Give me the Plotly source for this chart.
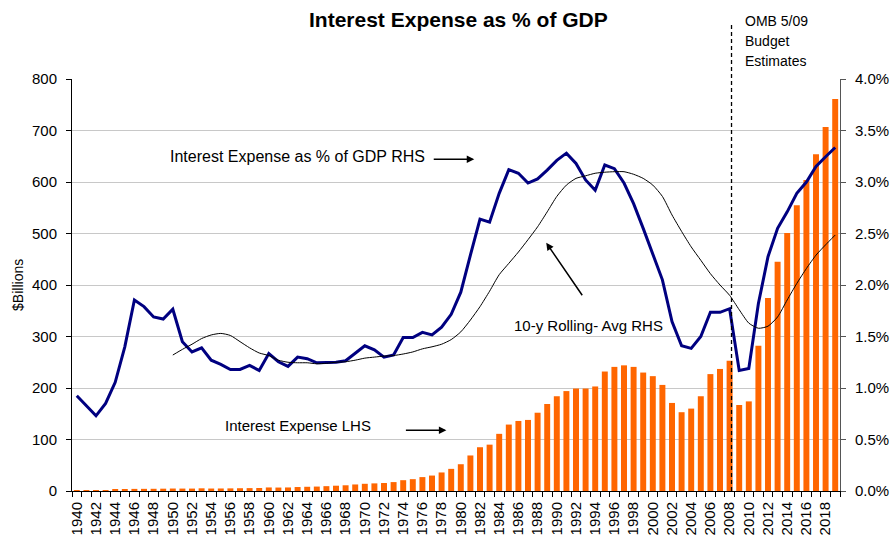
import plotly.graph_objects as go

years = list(range(1940, 2020))

interest_expense_bn = [
    0.9, 1.1, 1.1, 1.5, 2.2, 3.1, 4.1, 4.2, 4.3, 4.5,
    4.8, 4.7, 4.7, 5.2, 4.8, 4.9, 5.1, 5.4, 5.6, 5.8,
    6.9, 6.7, 6.9, 7.7, 8.2, 8.6, 9.4, 10.3, 11.1, 12.7,
    14.0, 14.8, 15.5, 17.3, 21.0, 23.0, 27.0, 30.0, 36.0, 43.0,
    52.0, 69.0, 85.0, 90.0, 111.0, 129.0, 136.0, 138.0, 152.0, 169.0,
    184.0, 194.0, 199.0, 199.0, 203.0, 232.0, 241.0, 244.0, 241.0, 230.0,
    223.0, 206.0, 171.0, 153.0, 160.0, 184.0, 227.0, 237.0, 253.0, 167.0,
    174.0, 282.0, 375.0, 445.0, 501.0, 555.0, 604.0, 654.0, 707.0, 761.0,
]

interest_pct_gdp = [
    0.925, 0.825, 0.73, 0.85, 1.055, 1.40, 1.855, 1.79, 1.69, 1.67,
    1.765, 1.45, 1.35, 1.39, 1.27, 1.23, 1.18, 1.18, 1.22, 1.17,
    1.335, 1.255, 1.21, 1.30, 1.285, 1.245, 1.245, 1.25, 1.265, 1.335,
    1.41, 1.37, 1.30, 1.32, 1.49, 1.49, 1.54, 1.515, 1.59, 1.715,
    1.93, 2.29, 2.64, 2.61, 2.89, 3.12, 3.085, 2.99, 3.03, 3.115,
    3.21, 3.28, 3.18, 3.02, 2.92, 3.165, 3.13, 2.99, 2.79, 2.55,
    2.31, 2.05, 1.645, 1.41, 1.385, 1.50, 1.735, 1.735, 1.77, 1.17,
    1.19, 1.82, 2.275, 2.55, 2.71, 2.89, 3.00, 3.15, 3.245, 3.335,
]

rolling_avg_pct = [
    None, None, None, None, None, None, None, None, None, None,
    1.32, 1.375, 1.425, 1.48, 1.515, 1.53, 1.51, 1.45, 1.39, 1.34,
    1.315, 1.27, 1.25, 1.245, 1.245, 1.235, 1.24, 1.25, 1.255, 1.27,
    1.29, 1.30, 1.31, 1.315, 1.33, 1.35, 1.38, 1.40, 1.425, 1.47,
    1.545, 1.66, 1.79, 1.94, 2.10, 2.21, 2.32, 2.44, 2.565, 2.71,
    2.86, 2.97, 3.035, 3.06, 3.085, 3.095, 3.10, 3.10, 3.075, 3.035,
    2.97, 2.86, 2.68, 2.52, 2.37, 2.24, 2.11, 2.00, 1.90, 1.76,
    1.63, 1.58, 1.60, 1.69, 1.855, 2.015, 2.16, 2.29, 2.39, 2.485,
]

left_ticks = [0, 100, 200, 300, 400, 500, 600, 700, 800]
right_ticks = [0.0, 0.5, 1.0, 1.5, 2.0, 2.5, 3.0, 3.5, 4.0]
year_labels = list(range(1940, 2020, 2))

FONT = "Liberation Sans, Arial, sans-serif"
NARROW = "Liberation Sans Narrow, Arial Narrow, Liberation Sans, sans-serif"

fig = go.Figure()
fig.add_trace(go.Bar(x=years, y=interest_expense_bn, marker_color="#FF6600",
                     marker_line_width=0, name="Interest Expense LHS"))
fig.add_trace(go.Scatter(x=years, y=interest_pct_gdp, yaxis="y2", mode="lines",
                         line=dict(color="#000080", width=3), name="Interest Expense as % of GDP RHS"))
fig.add_trace(go.Scatter(x=years, y=rolling_avg_pct, yaxis="y2", mode="lines",
                         line=dict(color="#000000", width=1, shape="spline", smoothing=0.6),
                         name="10-y Rolling- Avg RHS", connectgaps=False))

fig.update_layout(
    width=894, height=548,
    margin=dict(l=72, r=54, t=79, b=57, autoexpand=False),
    paper_bgcolor="white", plot_bgcolor="white",
    showlegend=False,
    bargap=0.38,
    font=dict(family=FONT, size=15, color="black"),
    xaxis=dict(
        range=[1939.5, 2019.5],
        tickmode="array", tickvals=year_labels, ticktext=[str(y) for y in year_labels],
        tickangle=-90, ticks="", showgrid=False, zeroline=False,
        showline=True, linecolor="black", linewidth=1,
        tickfont=dict(size=15),
        ticklabelstandoff=4,
        minor=dict(tickmode="linear", tick0=1939.5, dtick=1, ticks="outside",
                   ticklen=5, tickcolor="black", showgrid=False),
    ),
    yaxis=dict(
        range=[0, 800], tickmode="array", tickvals=left_ticks,
        ticks="outside", ticklen=5, tickcolor="black",
        showline=True, linecolor="black", linewidth=1,
        showgrid=True, gridcolor="#c8c8c8", gridwidth=1, zeroline=False,
        tickfont=dict(size=15), ticklabelstandoff=6,
    ),
    yaxis2=dict(
        range=[0, 4], overlaying="y", side="right", tickmode="array",
        tickvals=right_ticks, ticktext=[f"{v:.1f}%" for v in right_ticks],
        ticks="outside", ticklen=5, tickcolor="#555555",
        showline=True, linecolor="#555555", linewidth=1,
        showgrid=False, zeroline=False,
        tickfont=dict(size=15), ticklabelstandoff=6,
    ),
)

# Title
fig.add_annotation(text="<b>Interest Expense as % of GDP</b>", xref="paper", yref="paper",
                   x=(458 - 72) / 767, y=(491 - 20) / 412, showarrow=False,
                   font=dict(size=21, family=FONT), xanchor="center", yanchor="middle")
# Y axis title
fig.add_annotation(text="$Billions", xref="paper", yref="paper", x=(18 - 72) / 767,
                   y=(491 - 285) / 412, textangle=-90, showarrow=False,
                   font=dict(size=14, family=FONT), xanchor="center", yanchor="middle")

# Dashed projection divider
fig.add_shape(type="line", xref="x", yref="paper", x0=2008.2, x1=2008.2,
              y0=0, y1=(491 - 22) / 412, line=dict(color="black", width=1.3, dash="4px,3px"))
for i, txt in enumerate(["OMB 5/09", "Budget", "Estimates"]):
    fig.add_annotation(text=txt, xref="paper", yref="paper", x=(742 - 72) / 767,
                       y=(491 - (21 + 20 * i)) / 412, showarrow=False, xanchor="left",
                       yanchor="middle", font=dict(size=14, family=NARROW))

# Series labels
fig.add_annotation(text="Interest Expense as % of GDP RHS", xref="x", yref="y2",
                   x=1962.96, y=3.25, showarrow=False, font=dict(size=16, family=FONT))
fig.add_annotation(text="10-y Rolling- Avg RHS", xref="x", yref="y2",
                   x=1993.3, y=1.61, showarrow=False, font=dict(size=15, family=FONT))
fig.add_annotation(text="Interest Expense LHS", xref="x", yref="y",
                   x=1963.0, y=128, showarrow=False, font=dict(size=15, family=FONT))

# Arrows
fig.add_annotation(text="", xref="x", yref="y2", x=1981.4, y=3.22, ax=-42, ay=0,
                   showarrow=True, arrowhead=2, arrowsize=1, arrowwidth=1.5, arrowcolor="black")
fig.add_annotation(text="", xref="x", yref="y2", x=1988.9, y=2.41, ax=37, ay=54,
                   showarrow=True, arrowhead=2, arrowsize=1, arrowwidth=1.5, arrowcolor="black")
fig.add_annotation(text="", xref="x", yref="y", x=1978.5, y=118, ax=-42, ay=0,
                   showarrow=True, arrowhead=2, arrowsize=1, arrowwidth=1.5, arrowcolor="black")

fig.write_html("out.html", config={"displayModeBar": False},
               post_script="document.body.style.margin='0';document.body.style.overflow='hidden';")
